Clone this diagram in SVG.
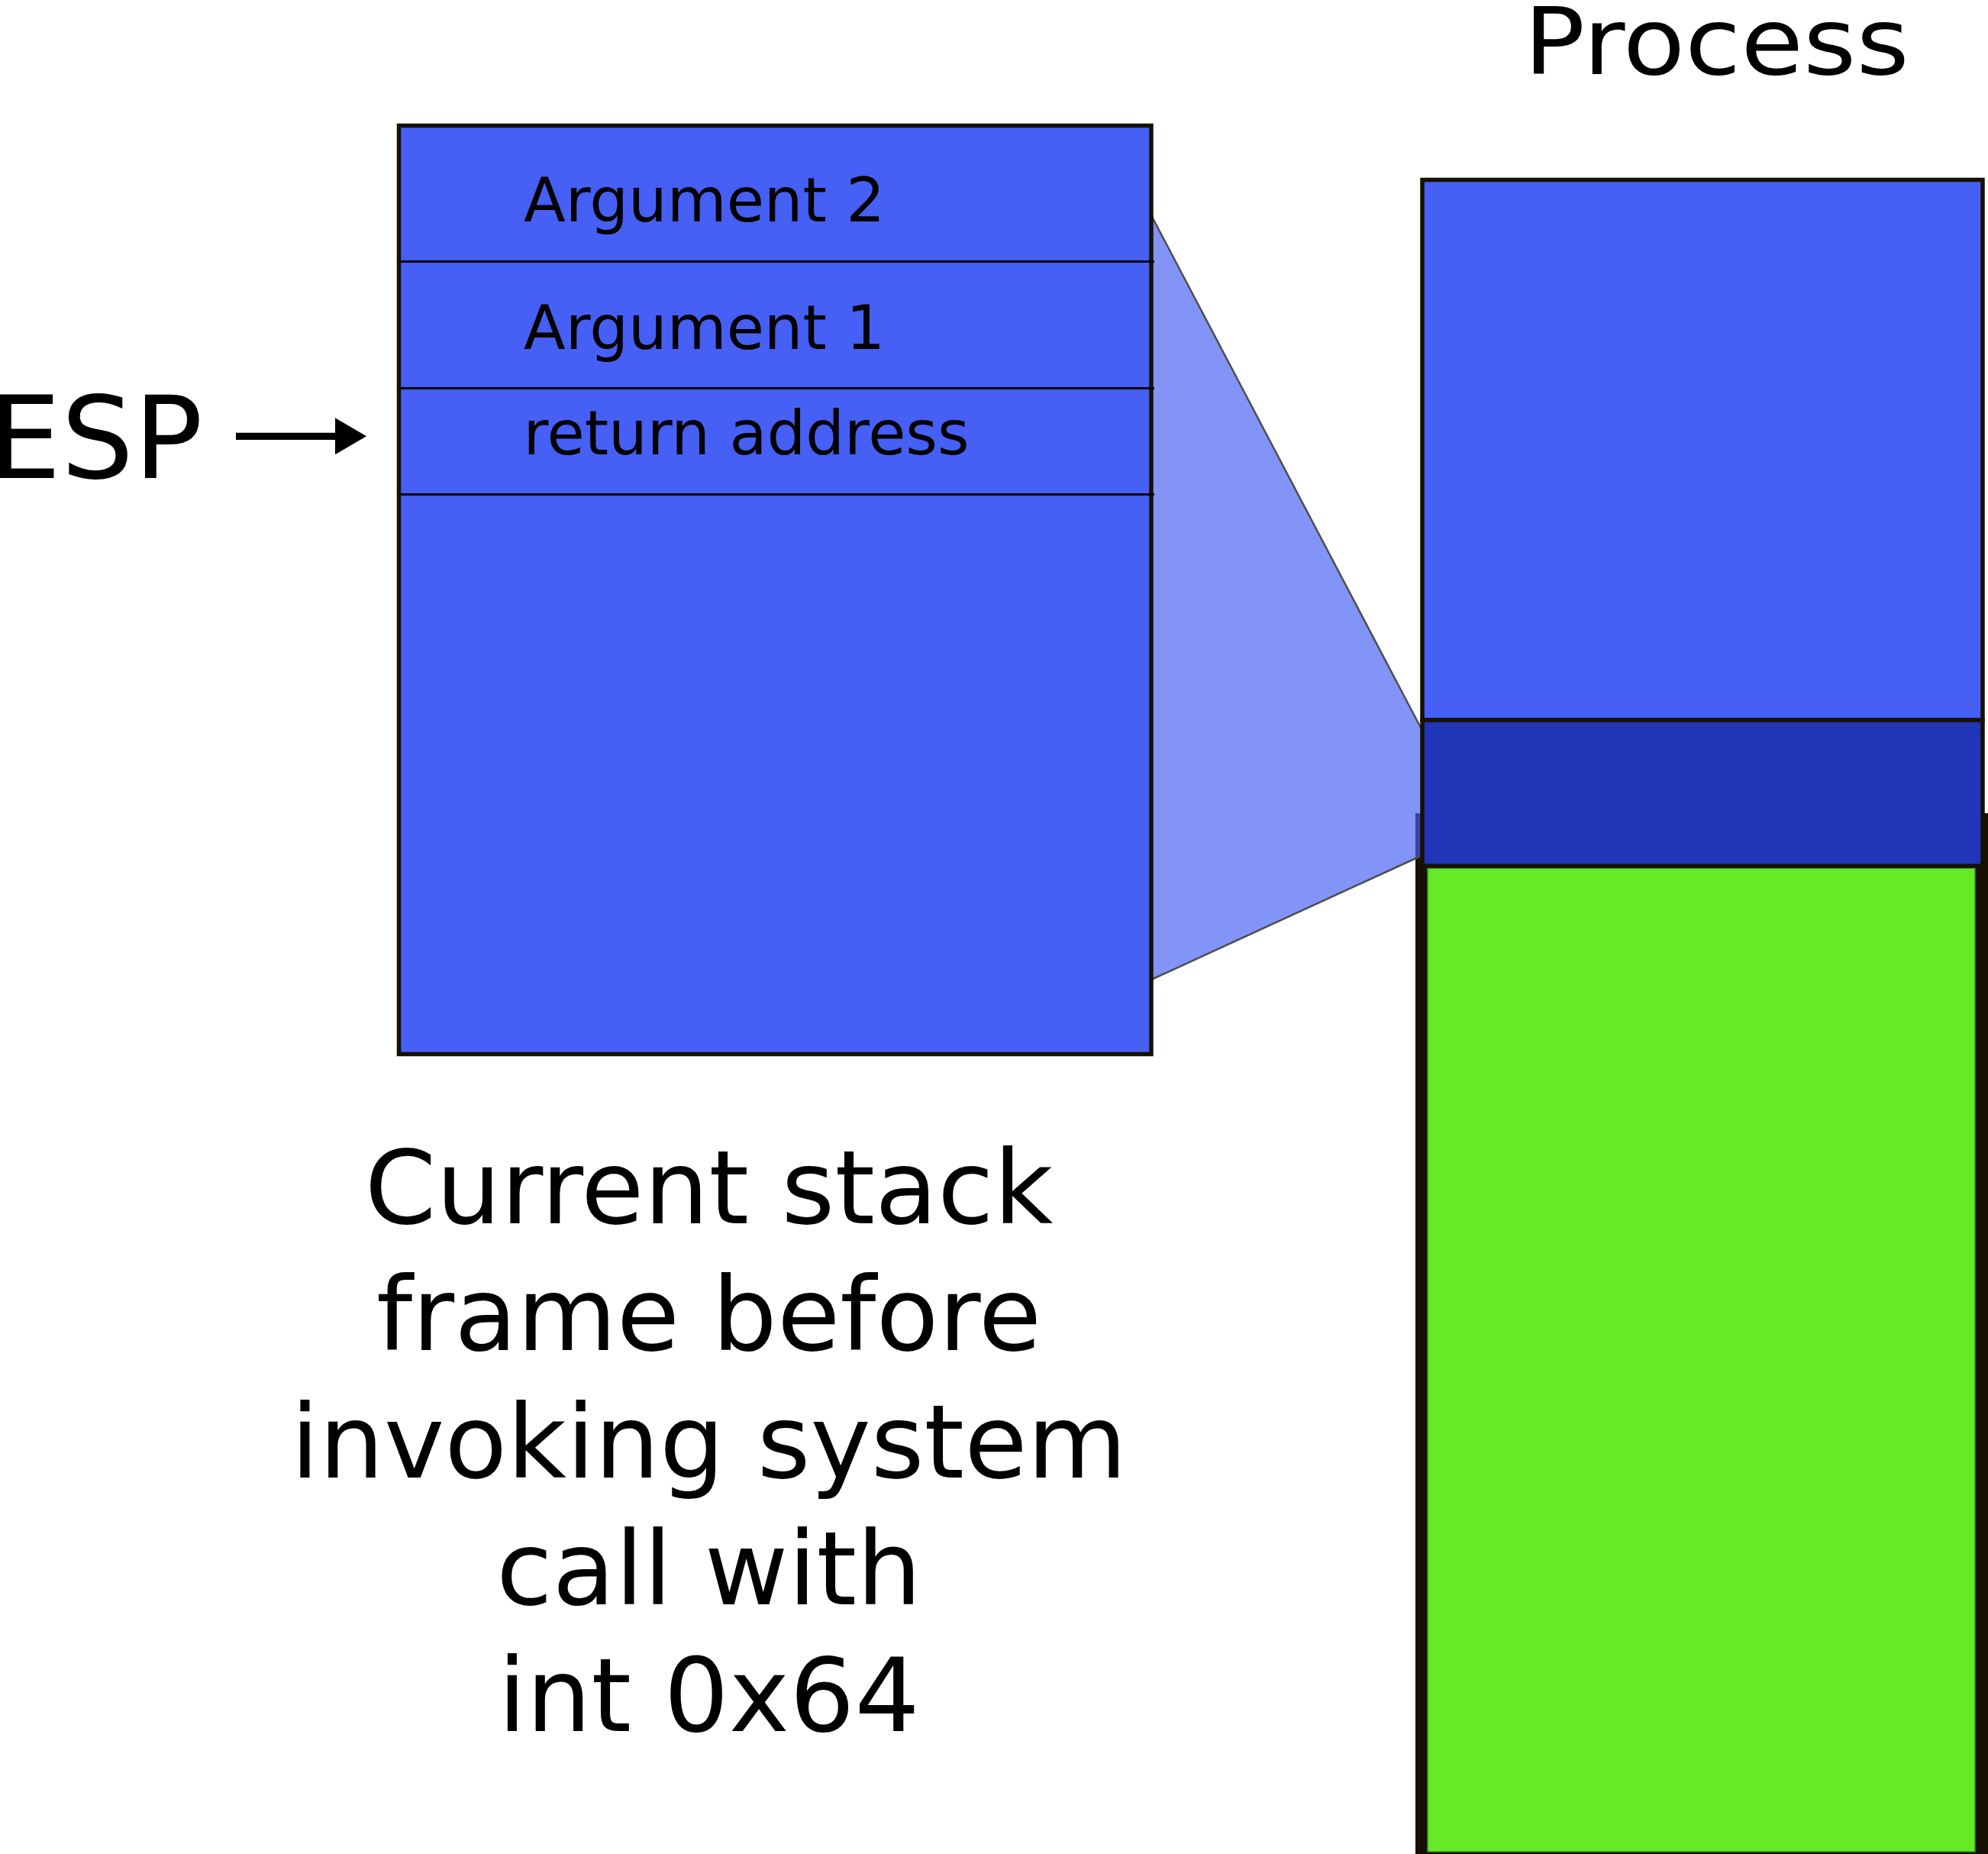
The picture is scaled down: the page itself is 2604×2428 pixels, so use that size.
<svg xmlns="http://www.w3.org/2000/svg" width="2604" height="2428" viewBox="0 0 2604 2428">
<defs>
<style>
.t{font-family:"DejaVu Sans","Noto Sans",sans-serif;fill:#000}
.box{stroke:#161000;stroke-width:5.5}
.div{stroke:#000;stroke-width:3}
.zl{stroke:#4d4d4d;stroke-width:2.5;fill:none}
</style>
<marker id="ah" viewBox="0 0 41 48" refX="0" refY="24" markerWidth="41" markerHeight="48" markerUnits="userSpaceOnUse" orient="auto">
<path d="M0,0 L41,24 L0,48 z" fill="#000"/>
</marker>
</defs>
<rect width="2604" height="2428" fill="#fff"/>

<g id="memory-lower">
<rect x="1854" y="1065" width="760" height="1380" fill="#161000"/>
<rect x="1870" y="1137" width="717" height="1288" fill="#64ea27" stroke="#3d8f17" stroke-width="1.5"/>
</g>

<g id="zoom-projection">
<polygon points="1508,282 1861,953 1861,1121 1508,1283" fill="#465ff5" fill-opacity="0.67"/>
<line class="zl" x1="1508" y1="282" x2="1861" y2="953"/>
<line class="zl" x1="1508" y1="1283" x2="1861" y2="1121"/>
</g>

<g id="stack-frame">
<rect class="box" x="522.5" y="164.5" width="985.5" height="1216" fill="#465ff5"/>
<line class="div" x1="525" y1="342.5" x2="1512" y2="342.5"/>
<line class="div" x1="525" y1="508.5" x2="1512" y2="508.5"/>
<line class="div" x1="525" y1="647.5" x2="1512" y2="647.5"/>
<text class="t" x="686" y="290" font-size="80">Argument 2</text>
<text class="t" x="686" y="457" font-size="80">Argument 1</text>
<text class="t" x="685.4" y="595" font-size="80">return address</text>
</g>

<g id="process-upper">
<rect class="box" x="1863" y="235.5" width="734" height="707.5" fill="#465ff5"/>
</g>

<g id="process-current-frame">
<rect class="box" x="1863" y="943" width="734" height="191" fill="#2035b8"/>
</g>

<g id="label-process">
<text class="t" transform="translate(2009,97.3) scale(1.1,1)" x="-11.9" y="0" font-size="121">Process</text>
</g>

<g id="label-esp">
<text class="t" x="-14.7" y="626.4" font-size="150">ESP</text>
</g>

<g id="connectors">
<line x1="309" y1="571.3" x2="439" y2="571.3" stroke="#000" stroke-width="9.3" marker-end="url(#ah)"/>
</g>

<g id="caption">
<text class="t" font-size="134" text-anchor="middle"><tspan x="928.5" y="1601.7">Current stack</tspan><tspan x="928.5" y="1768.1">frame before</tspan><tspan x="928.5" y="1934.5">invoking system</tspan><tspan x="928.5" y="2100.9">call with</tspan><tspan x="928.5" y="2267.3">int 0x64</tspan></text>
</g>
</svg>
